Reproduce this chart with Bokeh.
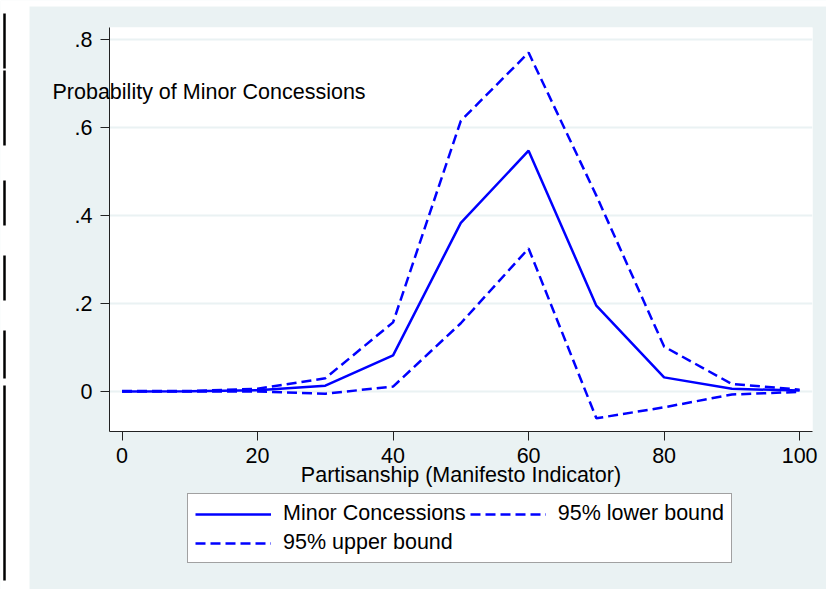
from bokeh.plotting import figure
from bokeh.models import (Range1d, FixedTicker, Legend, LegendItem, Label)
from bokeh.embed import file_html
from bokeh.resources import INLINE

# ---- data ----
partisanship = [0, 10, 20, 30, 40, 50, 60, 70, 80, 90, 100]
minor_concessions = [0.0, 0.0005, 0.003, 0.013, 0.082, 0.383, 0.547, 0.195, 0.032, 0.006, 0.002]
lower_bound = [0.0, 0.0, 0.0, -0.005, 0.011, 0.155, 0.325, -0.061, -0.036, -0.007, -0.001]
upper_bound = [0.001, 0.001, 0.006, 0.030, 0.157, 0.615, 0.770, 0.445, 0.102, 0.017, 0.004]

x_ticks = [0, 20, 40, 60, 80, 100]
y_ticks = [0, 0.2, 0.4, 0.6, 0.8]
y_tick_labels = {0: "0", 0.2: ".2", 0.4: ".4", 0.6: ".6", 0.8: ".8"}

y_title = "Probability of Minor Concessions"
x_title = "Partisanship (Manifesto Indicator)"
legend_labels = ["Minor Concessions", "95% lower bound", "95% upper bound"]

BG = "#eaf2f3"
BLUE = "#0000ff"
FONT = "Liberation Sans"
FS = "21.5px"
W, H = 826, 589
DASH = "10 5"

# ---------------- main chart ----------------
p = figure(width=W, height=H, output_backend="svg", toolbar_location=None,
           x_range=Range1d(-1.85, 101.9), y_range=Range1d(-0.091, 0.827),
           min_border_left=109, min_border_right=14, min_border_top=27,
           min_border_bottom=158)
p.background_fill_color = "white"
p.border_fill_color = BG
p.outline_line_color = None

p.line(partisanship, minor_concessions, line_color=BLUE, line_width=2.5)
p.line(partisanship, lower_bound, line_color=BLUE, line_width=2.5, line_dash=DASH)
p.line(partisanship, upper_bound, line_color=BLUE, line_width=2.5, line_dash=DASH)

p.xaxis.ticker = FixedTicker(ticks=x_ticks)
p.yaxis.ticker = FixedTicker(ticks=y_ticks)
p.yaxis.major_label_overrides = y_tick_labels
for ax in (p.xaxis, p.yaxis):
    ax.axis_line_color = "#222222"
    ax.major_tick_line_color = "#222222"
    ax.major_tick_out = 9
    ax.major_tick_in = 0
    ax.minor_tick_line_color = None
    ax.major_label_text_font = FONT
    ax.major_label_text_font_size = FS
    ax.major_label_text_color = "black"
p.yaxis.major_label_orientation = "horizontal"
p.yaxis.major_label_standoff = 8
p.xaxis.major_label_standoff = 7
p.xaxis.axis_label = x_title
p.xaxis.axis_label_text_font = FONT
p.xaxis.axis_label_text_font_size = FS
p.xaxis.axis_label_text_font_style = "normal"
p.xaxis.axis_label_text_color = "black"
p.xaxis.axis_label_standoff = -3

p.xgrid.grid_line_color = None
p.ygrid.grid_line_color = BG
p.ygrid.grid_line_width = 2

# ---------------- transparent overlay in page pixels ----------------
ov = figure(width=W, height=H, output_backend="svg", toolbar_location=None,
            x_range=Range1d(0, W), y_range=Range1d(H, 0),
            min_border=0, x_axis_type=None, y_axis_type=None,
            styles={"position": "absolute", "left": "0px", "top": "0px"})
ov.background_fill_color = None
ov.border_fill_color = None
ov.outline_line_color = None
ov.grid.visible = False

# white page margin left of / above the graph region
ov.quad(left=[0, 0], right=[29, W], top=[0, 0], bottom=[H, 6],
        fill_color="white", line_color=None)
# black vertical marks at the left page edge
bar_top = [13, 70, 180, 255, 330, 385]
bar_bottom = [68, 145, 225, 300, 378, 580]
ov.segment(x0=[4] * 6, y0=bar_top, x1=[4] * 6, y1=bar_bottom,
           line_color="black", line_width=2.5)

ov.add_layout(Label(x=52, y=91, text=y_title,
                    text_font=FONT, text_font_size=FS, text_color="black",
                    text_baseline="middle", text_align="left"))

# legend entries (hidden copies of the series, only their legend glyphs show)
l_main = ov.line(partisanship, minor_concessions, line_color=BLUE, line_width=2.5, visible=False)
l_low = ov.line(partisanship, lower_bound, line_color=BLUE, line_width=2.5, line_dash=DASH, visible=False)
l_up = ov.line(partisanship, upper_bound, line_color=BLUE, line_width=2.5, line_dash=DASH, visible=False)

legend = Legend(items=[LegendItem(label=legend_labels[0], renderers=[l_main]),
                       LegendItem(label=legend_labels[1], renderers=[l_low]),
                       LegendItem(label=legend_labels[2], renderers=[l_up])],
                location=(187, 26), orientation="horizontal", ncols=2)
legend.label_text_font = FONT
legend.label_text_font_size = FS
legend.label_text_color = "black"
legend.glyph_width = 76
legend.glyph_height = 22
legend.label_height = 22
legend.label_standoff = 12
legend.spacing = 4
legend.padding = 7
legend.margin = 0
legend.border_line_color = "#444444"
legend.border_line_width = 1
legend.background_fill_color = "white"
legend.background_fill_alpha = 1
ov.add_layout(legend, "center")

open("out.html", "w").write(file_html([p, ov], INLINE))
